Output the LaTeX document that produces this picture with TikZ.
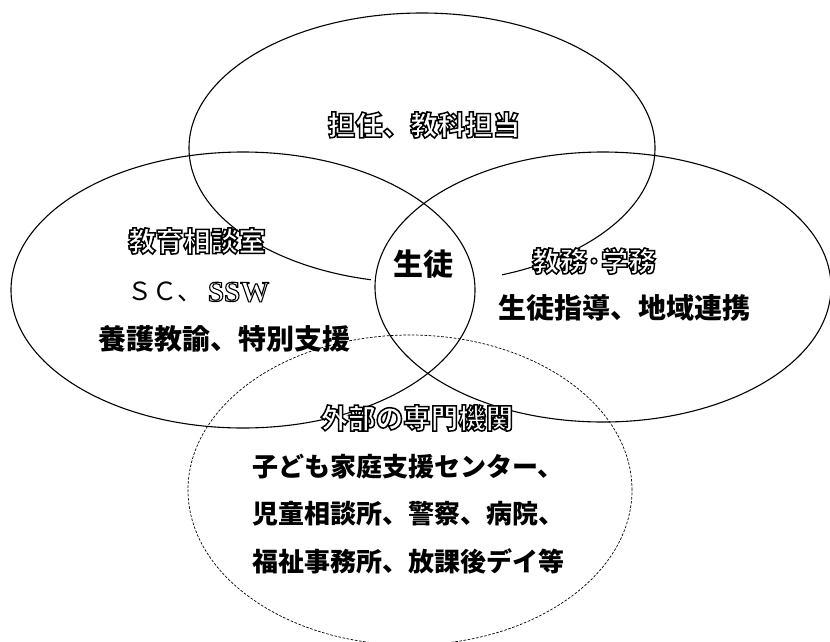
\documentclass[tikz,border=0pt]{standalone}
\usepackage{fontspec}
\usetikzlibrary{shapes.geometric}
\newfontfamily\jp{Noto Sans CJK JP}
\newfontfamily\ser{Liberation Serif}
\tikzset{
  x=1pt, y=-1pt,
  every node/.style={inner sep=0pt, outer sep=0pt},
  ring/.style={ellipse, draw=black, line width=1.1pt, inner sep=0pt},
  dashring/.style={ellipse, draw=black, line width=0.7pt, dash pattern=on 2.6pt off 1.6pt, inner sep=0pt},
  headtxt/.style={font=\jp\bfseries\fontsize{27.5}{30}\selectfont},
  bodytxt/.style={font=\jp\bfseries\fontsize{28}{30}\selectfont},
  smalltxt/.style={font=\jp\bfseries\fontsize{26}{30}\selectfont},
  sctxt/.style={font=\jp\fontsize{25}{30}\selectfont},
  ssw/.style={font=\ser\bfseries\fontsize{29}{30}\selectfont},
  centertxt/.style={font=\jp\bfseries\fontsize{30}{32}\selectfont},
}
% outlined text: white fill, black stroke (PDF text render mode 2)
\newcommand\olt[2][1.5]{{\color{white}\special{pdf:literal direct 2 Tr #1 w 0 G}#2\special{pdf:literal direct 0 Tr}}}
\begin{document}
\begin{tikzpicture}
\useasboundingbox (0,0) rectangle (830,641);
\fill[white] (0,0) rectangle (830,641);
% top ellipse
\node[ring, minimum width=466pt, minimum height=270pt] (top) at (422,148) {};
% white box behind the centre label
\fill[white] (371,246) rectangle (502,290);
% left and right ellipses
\node[ring, minimum width=464pt, minimum height=276pt] (left) at (243,290) {};
\node[ring, minimum width=456pt, minimum height=270pt] (right) at (603,287) {};
% dashed ellipse
\node[dashring, minimum width=444pt, minimum height=310pt] (ext) at (410,490) {};

% plain texts
\node[sctxt, anchor=west] (sc) at (127,292) {ＳＣ、};
\node[bodytxt] (l3) at (224,339) {養護教諭、特別支援};
\node[centertxt] (st) at (423,264) {生徒};
\node[bodytxt] (r2) at (624,308) {生徒指導、地域連携};
\node[smalltxt, anchor=west] (b1) at (252,467) {子ども家庭支援センター、};
\node[smalltxt, anchor=west] (b2) at (252,514) {児童相談所、警察、病院、};
\node[smalltxt, anchor=west] (b3) at (252,561) {福祉事務所、放課後デイ等};
% outlined headings
\node[headtxt] (h1) at (424,125) {\olt{担任、教科担当}};
\node[headtxt] (h2) at (197,241) {\olt{教育相談室}};
\node[ssw, anchor=west] (sw) at (208,292) {\olt[1.1]{SSW}};
\node[headtxt] (h3) at (594,261) {\olt{教務･学務}};
\node[headtxt] (h4) at (417,418) {\olt{外部の専門機関}};
\end{tikzpicture}
\end{document}
